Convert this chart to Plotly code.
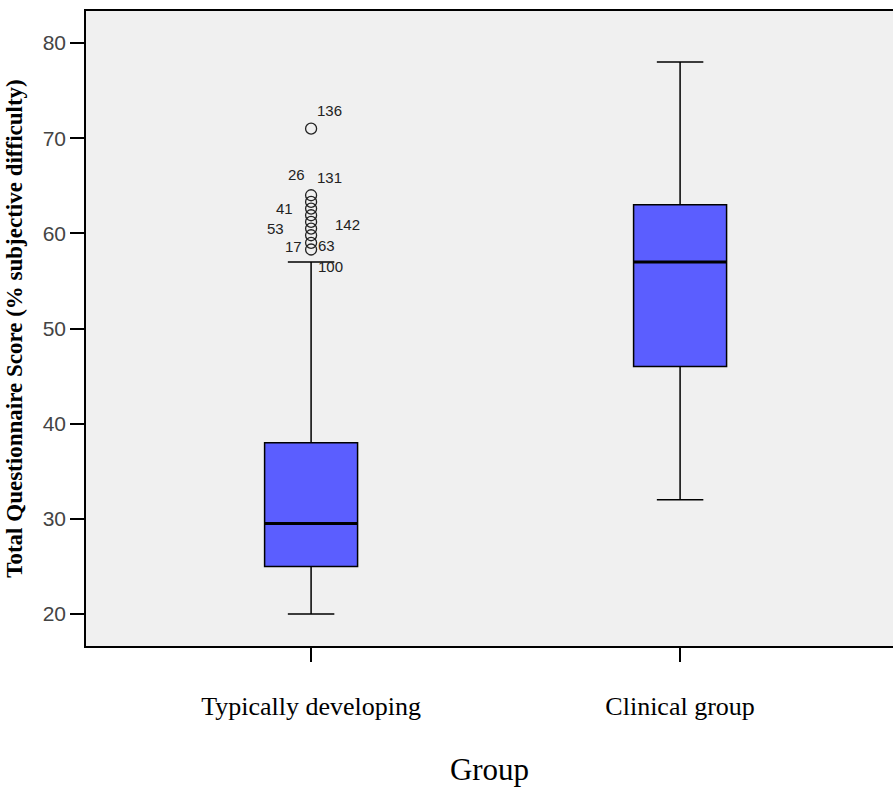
import plotly.graph_objects as go

# ---- data ----
groups = ["Typically developing", "Clinical group"]
lower_whisker = [20, 32]
q1 = [25, 46]
median = [29.5, 57]
q3 = [38, 63]
upper_whisker = [57, 78]

# outliers for Typically developing group
outlier_values = [71, 64.0, 63.3, 62.6, 61.9, 61.2, 60.5, 59.8, 59.0, 58.3]
# case labels: (case id, outlier value it is attached to)
label_ids = ["136", "26", "131", "41", "53", "142", "17", "63", "100"]
label_values = [71, 64.0, 64.0, 62.6, 60.5, 61.2, 59.0, 59.0, 58.3]

y_ticks = [20, 30, 40, 50, 60, 70, 80]

# ---- styling ----
xpos = list(range(len(groups)))
BOX_W = 0.252
label_offsets = [(18, 18), (-15, 21), (18, 18), (-27, 0), (-36, 0),
                 (36, -3), (-18, -4), (15, -3), (19, -17)]

fig = go.Figure()
fig.add_trace(go.Box(
    x=xpos, q1=q1, median=median, q3=q3,
    lowerfence=lower_whisker, upperfence=upper_whisker,
    width=BOX_W, whiskerwidth=0.5,
    fillcolor="#5b5eff", line=dict(color="black", width=1.5),
    boxpoints=False, showlegend=False, hoverinfo="skip",
))
# thicker median lines
for xi, m in zip(xpos, median):
    fig.add_trace(go.Scatter(
        x=[xi - BOX_W / 2, xi + BOX_W / 2], y=[m, m], mode="lines",
        line=dict(color="black", width=3), showlegend=False, hoverinfo="skip"))

fig.add_trace(go.Scatter(
    x=[xpos[0]] * len(outlier_values), y=outlier_values, mode="markers",
    marker=dict(symbol="circle-open", size=11, color="#222", line=dict(width=1.3)),
    showlegend=False, hoverinfo="skip"))

for lid, lv, (dx, dy) in zip(label_ids, label_values, label_offsets):
    fig.add_annotation(x=xpos[0], y=lv, text=lid, showarrow=False,
                       xshift=dx, yshift=dy,
                       font=dict(family="Liberation Sans, Arial", size=15, color="#222"))

fig.update_layout(
    width=893, height=789,
    margin=dict(l=86, r=0, t=11, b=143),
    paper_bgcolor="white", plot_bgcolor="#f0f0f0",
    xaxis=dict(
        range=[-0.61, 1.577], tickmode="array", tickvals=xpos, ticktext=groups,
        showgrid=False, zeroline=False,
        showline=True, linecolor="black", linewidth=1.5, mirror=True,
        ticks="outside", ticklen=14, tickcolor="black", tickwidth=1.5,
        ticklabelstandoff=22,
        tickfont=dict(family="Liberation Serif, Times New Roman", size=26, color="black"),
        title=dict(text="Group", standoff=38,
                   font=dict(family="Liberation Serif, Times New Roman", size=31, color="black")),
    ),
    yaxis=dict(
        range=[16.64, 83.36], tickmode="array", tickvals=y_ticks,
        showgrid=False, zeroline=False,
        showline=True, linecolor="black", linewidth=1.5, mirror=False,
        ticks="outside", ticklen=14, tickcolor="black", tickwidth=1.5,
        tickfont=dict(family="Liberation Sans, Arial", size=21, color="#444"),
        title=dict(text="<b>Total Questionnaire Score (% subjective difficulty)</b>", standoff=14,
                   font=dict(family="Liberation Serif, Times New Roman", size=23, color="black")),
    ),
)

fig.write_html("out.html", config={"displayModeBar": False},
               post_script="document.body.style.margin='0';")
